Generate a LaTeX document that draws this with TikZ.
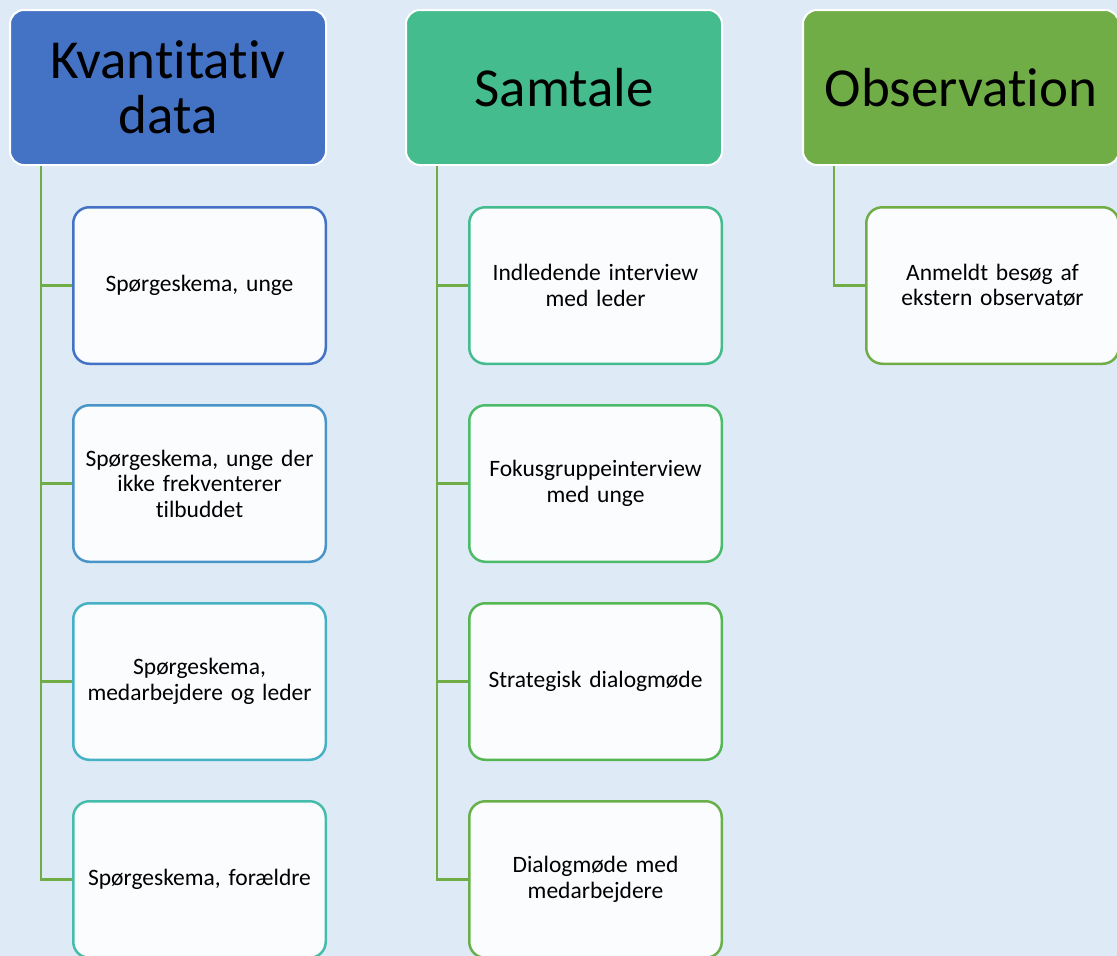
\documentclass[tikz,border=0pt]{standalone}
\usepackage{fontspec}
\setmainfont{Carlito}[Ligatures=NoCommon]
\usetikzlibrary{positioning}
\definecolor{bgblue}{RGB}{222,235,247}
\definecolor{hblue}{RGB}{68,114,196}
\definecolor{hteal}{RGB}{69,188,141}
\definecolor{hgreen}{RGB}{112,173,71}
\definecolor{boxwhite}{RGB}{251,252,254}
\definecolor{kblueA}{RGB}{68,114,196}
\definecolor{kblueB}{RGB}{74,149,200}
\definecolor{kblueC}{RGB}{70,176,196}
\definecolor{kblueD}{RGB}{69,189,170}
\definecolor{sgreenA}{RGB}{69,188,141}
\definecolor{sgreenB}{RGB}{76,187,106}
\definecolor{sgreenC}{RGB}{85,182,83}
\definecolor{sgreenD}{RGB}{106,176,74}
\tikzset{
  header/.style={
  draw=white,
  line width=2pt,
  rounded corners=14pt,
  minimum width=316pt,
  minimum height=155pt,
  text width=300pt,
  align=center,
  font=\fontsize{55}{55}\selectfont,
  },
  item/.style={
  draw=#1,
  fill=boxwhite,
  line width=2.5pt,
  rounded corners=16pt,
  minimum width=252.5pt,
  minimum height=156.5pt,
  text width=236pt,
  align=center,
  font=\fontsize{23.5}{25.5}\selectfont,
  },
  conn/.style={draw=hgreen, line width=2.6pt},
}

\begin{document}
\begin{tikzpicture}[x=1pt,y=-1pt]

\fill[bgblue] (0,0) rectangle (1117,956);
\useasboundingbox (0,0) rectangle (1117,956);

% the three headers
\node[header,fill=hblue,anchor=north west](h1) at (9,9){Kvantitativ\\data};
\node[header,fill=hteal,right=78pt of h1](h2){Samtale};
\node[header,fill=hgreen,right=79pt of h2](h3){Observation};

\begin{scope}[node distance=39pt]

\node[item=kblueA,below=40pt of h1.south east,anchor=north east](c11){Spørgeskema, unge};
\node[item=kblueB,below=of c11](c12){Spørgeskema, unge der\\ikke frekventerer\\tilbuddet};
\node[item=kblueC,below=of c12](c13){Spørgeskema,\\medarbejdere og leder};
\node[item=kblueD,below=of c13](c14){Spørgeskema, forældre};

\node[item=sgreenA,below=40pt of h2.south east,anchor=north east](c21){Indledende interview\\med leder};
\node[item=sgreenB,below=of c21](c22){Fokusgruppeinterview\\med unge};
\node[item=sgreenC,below=of c22](c23){Strategisk dialogmøde};
\node[item=sgreenD,below=of c23](c24){Dialogmøde med\\medarbejdere};

\node[item=hgreen,below=40pt of h3.south east,anchor=north east](c31){Anmeldt besøg af\\ekstern observatør};

\end{scope}

% lines from each header to its boxes
\foreach \value in {1,...,4}
  \draw[conn] ([xshift=32pt]h1.south west) |- (c1\value.west);

\foreach \value in {1,...,4}
  \draw[conn] ([xshift=32pt]h2.south west) |- (c2\value.west);

\draw[conn] ([xshift=32pt]h3.south west) |- (c31.west);

\end{tikzpicture}
\end{document}
